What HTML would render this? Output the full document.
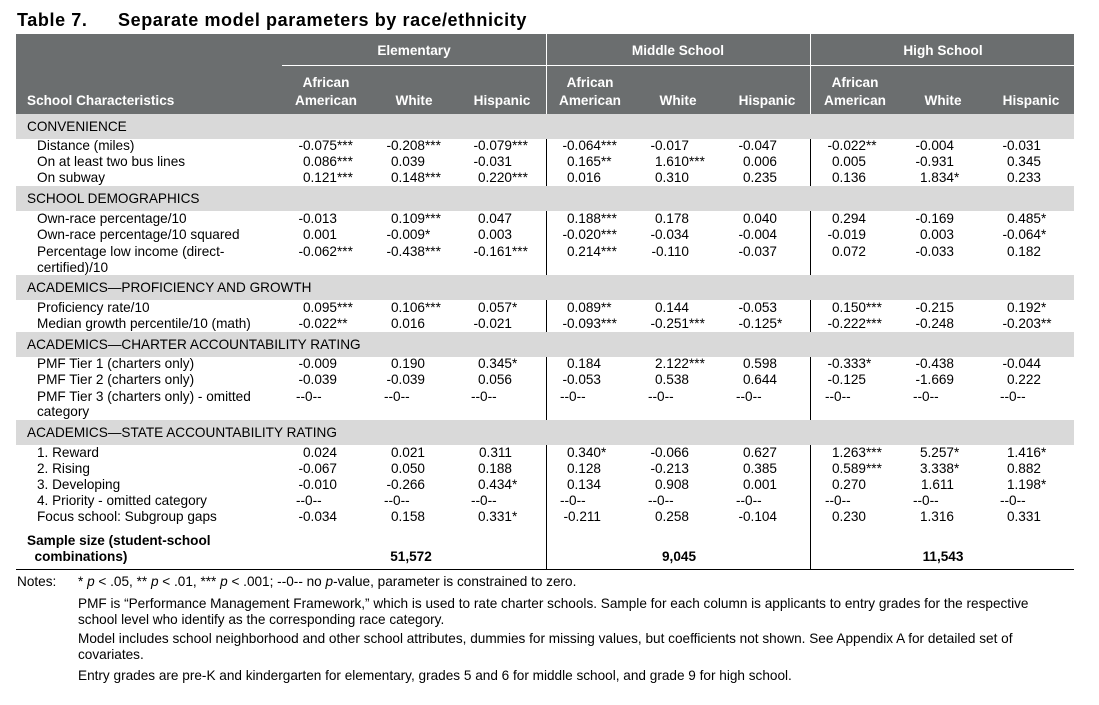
<!DOCTYPE html>
<html><head><meta charset="utf-8">
<style>
html,body{margin:0;padding:0;background:#fff;}
body{width:1099px;height:705px;position:relative;overflow:hidden;font-family:"Liberation Sans",Arial,sans-serif;color:#000;}
.a{position:absolute;white-space:nowrap;line-height:16px;font-size:13.6px;}
.h{color:#fff;font-weight:bold;font-size:13.6px;}
.band{position:absolute;left:16px;width:1058px;background:#d9d9d9;}
.vl{position:absolute;width:1px;background:#000;}
</style></head><body>
<div class="a" style="left:17px;top:10px;font-size:18px;font-weight:bold;line-height:20px;letter-spacing:0.6px;"><span style="display:inline-block;width:101px;">Table 7.</span>Separate model parameters by race/ethnicity</div>
<div style="position:absolute;left:16px;top:34px;width:1058px;height:80px;background:#6b6e6f;"></div>
<div style="position:absolute;left:546px;top:34px;width:1px;height:80px;background:#fff;"></div>
<div style="position:absolute;left:810px;top:34px;width:1px;height:80px;background:#fff;"></div>
<div style="position:absolute;left:282px;top:65px;width:792px;height:1px;background:#fff;"></div>
<div class="a h" style="left:314px;width:200px;text-align:center;top:43px;">Elementary</div>
<div class="a h" style="left:578px;width:200px;text-align:center;top:43px;">Middle School</div>
<div class="a h" style="left:843px;width:200px;text-align:center;top:43px;">High School</div>
<div class="a h" style="left:27px;top:93px;">School Characteristics</div>
<div id="root"></div>
<script>
const colCenters=[326,414,502,590,678,767,855,943,1031];
const numRight=[337,425,512,601,689,777,866,954,1041];
const subHeads=["African|American","White","Hispanic","African|American","White","Hispanic","African|American","White","Hispanic"];
const sections=[
 {title:"CONVENIENCE",y:127,rows:[
  ["Distance (miles)",146,["-0.075***","-0.208***","-0.079***","-0.064***","-0.017","-0.047","-0.022**","-0.004","-0.031"]],
  ["On at least two bus lines",162,["0.086***","0.039","-0.031","0.165**","1.610***","0.006","0.005","-0.931","0.345"]],
  ["On subway",178,["0.121***","0.148***","0.220***","0.016","0.310","0.235","0.136","1.834*","0.233"]]]},
 {title:"SCHOOL DEMOGRAPHICS",y:199,rows:[
  ["Own-race percentage/10",219,["-0.013","0.109***","0.047","0.188***","0.178","0.040","0.294","-0.169","0.485*"]],
  ["Own-race percentage/10 squared",235,["0.001","-0.009*","0.003","-0.020***","-0.034","-0.004","-0.019","0.003","-0.064*"]],
  ["Percentage low income (direct-",252,["-0.062***","-0.438***","-0.161***","0.214***","-0.110","-0.037","0.072","-0.033","0.182"]],
  ["certified)/10",268,null]]},
 {title:"ACADEMICS\u2014PROFICIENCY AND GROWTH",y:288,rows:[
  ["Proficiency rate/10",308,["0.095***","0.106***","0.057*","0.089**","0.144","-0.053","0.150***","-0.215","0.192*"]],
  ["Median growth percentile/10 (math)",324,["-0.022**","0.016","-0.021","-0.093***","-0.251***","-0.125*","-0.222***","-0.248","-0.203**"]]]},
 {title:"ACADEMICS\u2014CHARTER ACCOUNTABILITY RATING",y:345,rows:[
  ["PMF Tier 1 (charters only)",364,["-0.009","0.190","0.345*","0.184","2.122***","0.598","-0.333*","-0.438","-0.044"]],
  ["PMF Tier 2 (charters only)",380,["-0.039","-0.039","0.056","-0.053","0.538","0.644","-0.125","-1.669","0.222"]],
  ["PMF Tier 3 (charters only) - omitted",397,["--0--","--0--","--0--","--0--","--0--","--0--","--0--","--0--","--0--"]],
  ["category",412,null]]},
 {title:"ACADEMICS\u2014STATE ACCOUNTABILITY RATING",y:433,rows:[
  ["1. Reward",453,["0.024","0.021","0.311","0.340*","-0.066","0.627","1.263***","5.257*","1.416*"]],
  ["2. Rising",469,["-0.067","0.050","0.188","0.128","-0.213","0.385","0.589***","3.338*","0.882"]],
  ["3. Developing",485,["-0.010","-0.266","0.434*","0.134","0.908","0.001","0.270","1.611","1.198*"]],
  ["4. Priority - omitted category",501,["--0--","--0--","--0--","--0--","--0--","--0--","--0--","--0--","--0--"]],
  ["Focus school: Subgroup gaps",517,["-0.034","0.158","0.331*","-0.211","0.258","-0.104","0.230","1.316","0.331"]]]}
];
const sampleSizes=["51,572","9,045","11,543"];
const root=document.getElementById('root');
function mk(cls,style,text){const d=document.createElement('div');d.className=cls;d.style.cssText=style;if(text!==undefined)d.textContent=text;root.appendChild(d);return d;}
[546,810].forEach(x=>{const v=mk('vl','left:'+x+'px;top:114px;height:456px;');

});
subHeads.forEach((s,i)=>{const p=s.split('|');
 const d=mk('a h','left:'+(colCenters[i]-50)+'px;width:100px;text-align:center;top:'+(p.length>1?74:92)+'px;line-height:18px;');
 d.innerHTML=p.join('<br>');
 
 });
sections.forEach(sec=>{
 const b=mk('band','top:'+(sec.y-13)+'px;height:25px;');
 
 
 const t=mk('a','left:27px;top:'+(sec.y-8)+'px;',sec.title);
 
 
 sec.rows.forEach(r=>{
  const l=mk('a','left:37px;top:'+(r[1]-8)+'px;',r[0]);
  
  
  if(!r[2])return;
  r[2].forEach((v,i)=>{
   let d;
   if(v==='--0--'){d=mk('a','left:'+(numRight[i]-41)+'px;top:'+(r[1]-8)+'px;',v);}
   else{const m=v.match(/^([^*]*)(\**)$/);
    d=mk('a','left:'+(numRight[i]-80)+'px;width:80px;top:'+(r[1]-8)+'px;text-align:right;overflow:visible;',m[1]);
    if(m[2]){const s=document.createElement('span');s.textContent=m[2];s.style.cssText='position:absolute;left:80px;top:0;font-size:13.6px;';d.appendChild(s);}}
   
   
  });
 });
});
const s1=mk('a','left:27px;top:533px;font-weight:bold;');s1.innerHTML='Sample size (student-school<br>&nbsp;&nbsp;combinations)';


[411,679,943].forEach((x,i)=>{const d=mk('a','left:'+(x-50)+'px;width:100px;text-align:center;top:549px;font-weight:bold;',sampleSizes[i]);

});
const bl=mk('','position:absolute;left:16px;top:569px;width:1058px;height:1px;background:#000;');


const n0=mk('a','left:17px;top:574px;','Notes:');


const notes=[
 [574,'* <i>p</i> &lt; .05, ** <i>p</i> &lt; .01, *** <i>p</i> &lt; .001; --0-- no <i>p</i>-value, parameter is constrained to zero.'],
 [596,'PMF is \u201cPerformance Management Framework,\u201d which is used to rate charter schools. Sample for each column is applicants to entry grades for the respective<br>school level who identify as the corresponding race category.'],
 [631,'Model includes school neighborhood and other school attributes, dummies for missing values, but coefficients not shown. See Appendix A for detailed set of<br>covariates.'],
 [668,'Entry grades are pre-K and kindergarten for elementary, grades 5 and 6 for middle school, and grade 9 for high school.']];
notes.forEach(n=>{const d=mk('a','left:78px;top:'+n[0]+'px;');d.innerHTML=n[1];

});
</script>
</body></html>
